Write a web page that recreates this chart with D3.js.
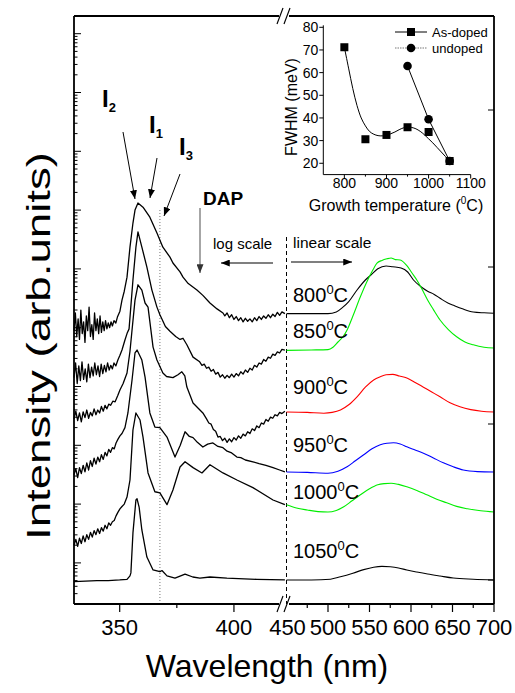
<!DOCTYPE html>
<html><head><meta charset="utf-8">
<script src="https://cdn.jsdelivr.net/npm/d3@7"></script>
<style>
html,body{margin:0;padding:0;background:#fff;}
svg{display:block;font-family:"Liberation Sans",Arial,Helvetica,sans-serif;}
</style></head><body>
<svg id="c" width="515" height="693"></svg>
<script>
// ---------- DATA ----------
// Growth temperatures (curve labels) and colours of the linear-scale part
const temps = ["800","850","900","950","1000","1050"];
const linColors = ["#000000","#00ee00","#ff0000","#0000ff","#00ee00","#000000"];
const xTicksLeft = [350,400];
const xMinorLeft = [375];
const xTicksRight = [450,500,550,600,650,700];
const xMinorRight = [475,525,575,625,675];

// Log-scale part: [wavelength nm, log10 intensity (offset spectra)]
const log800 = [[330,3.95],[330.6,4.25],[331.2,3.85],[331.8,4.15],[332.4,3.8],[333,4.3],[333.6,3.9],[334.2,4.1],[334.8,3.75],[335.4,4.2],[336,3.95],[336.6,4.35],[337.2,3.85],[337.8,4.05],[338.4,3.8],[339,4.25],[339.6,3.95],[340.2,4.15],[340.8,3.9],[341.4,4.2],[342,3.92],[342.6,4.1],[343.2,3.95],[343.8,4.12],[344.4,3.98],[345,4.08],[345.6,4.0],[346.2,4.1],[346.8,4.03],[347.5,4.12],[348.3,4.08],[349,4.18],[350.1,4.28],[351,4.47],[352,4.62],[353.2,4.86],[354.5,5.37],[355.8,5.78],[356.7,6.0],[358,6.12],[360.2,6.05],[363.2,5.88],[366.3,5.61],[368.9,5.37],[372,5.2],[373.3,5.1],[376.4,4.95],[377.7,4.86],[380,4.75],[383.8,4.64],[386.4,4.55],[389.5,4.42],[392.6,4.32],[395.2,4.25],[396,4.2],[397,4.25],[398,4.17],[399,4.22],[400,4.14],[401,4.19],[402,4.12],[403,4.17],[404,4.1],[405,4.16],[406,4.11],[407,4.15],[408,4.1],[409,4.17],[410,4.12],[411,4.19],[412,4.14],[413,4.2],[414,4.16],[415,4.22],[416,4.17],[417,4.23],[418,4.19],[419,4.26],[420,4.21],[421,4.27],[422.3,4.24]];
const log850 = [[330,3.15],[330.7,3.4],[331.4,3.05],[332.1,3.35],[332.8,3.1],[333.5,3.42],[334.2,3.12],[334.9,3.3],[335.6,3.08],[336.3,3.38],[337,3.15],[337.7,3.33],[338.4,3.18],[339.1,3.4],[339.8,3.2],[340.5,3.35],[341.2,3.17],[341.9,3.38],[342.6,3.22],[343.3,3.36],[344,3.25],[344.7,3.4],[345.4,3.28],[346.1,3.36],[346.8,3.3],[347.5,3.4],[348.3,3.35],[349.2,3.45],[350.1,3.53],[351,3.62],[352.3,3.79],[353.2,3.9],[354.1,3.98],[355.8,4.81],[357.1,5.37],[358,5.63],[359.7,5.37],[361.9,5.03],[364.1,4.64],[366.3,4.35],[367.6,4.22],[370,4.02],[372,3.94],[374.5,3.85],[376.4,3.8],[377.7,3.82],[379.4,3.71],[382.1,3.5],[385,3.42],[386,3.36],[387,3.38],[388,3.31],[389,3.33],[390,3.26],[391,3.29],[392,3.21],[393,3.24],[394,3.16],[395,3.2],[396,3.14],[397,3.19],[398,3.15],[399,3.21],[400,3.16],[401,3.22],[402,3.18],[403,3.25],[404,3.21],[405,3.28],[406,3.24],[407,3.31],[408,3.28],[409,3.36],[410,3.33],[411,3.4],[412,3.38],[413,3.46],[414,3.43],[415,3.5],[416,3.48],[417,3.55],[418,3.53],[419,3.59],[420,3.57],[421,3.63],[422.3,3.62]];
const log900 = [[330,2.45],[330.8,2.58],[331.6,2.42],[332.4,2.55],[333.2,2.4],[334,2.57],[334.8,2.47],[335.6,2.6],[336.4,2.46],[337.2,2.56],[338,2.5],[338.8,2.62],[339.6,2.52],[340.4,2.6],[341.2,2.55],[342,2.66],[342.8,2.58],[343.6,2.68],[344.4,2.62],[345.2,2.7],[346,2.68],[347,2.75],[348,2.74],[349.2,2.85],[350.1,2.94],[351.5,3.05],[353.2,3.23],[354.5,3.6],[355.4,3.96],[356.7,4.47],[358,4.73],[359.7,4.64],[361.1,4.42],[362.4,4.35],[364.6,3.67],[366.3,3.45],[368.9,3.23],[370.5,3.17],[373.3,3.15],[375.5,3.2],[377.2,3.25],[378.5,3.18],[379.4,2.99],[382.1,2.72],[386.4,2.55],[388,2.45],[389,2.38],[390,2.36],[391,2.27],[392,2.24],[393,2.14],[394,2.15],[395,2.08],[396,2.12],[397,2.05],[398,2.11],[399,2.06],[400,2.13],[401,2.09],[402,2.16],[403,2.12],[404,2.19],[405,2.16],[406,2.23],[407,2.2],[408,2.28],[409,2.25],[410,2.33],[411,2.3],[412,2.38],[413,2.36],[414,2.44],[415,2.41],[416,2.48],[417,2.46],[418,2.52],[419,2.5],[420,2.56],[421,2.54],[422.3,2.58]];
const log950 = [[330,1.5],[330.8,1.6],[331.6,1.45],[332.4,1.62],[333.2,1.52],[334,1.66],[334.8,1.55],[335.6,1.7],[336.4,1.58],[337.2,1.74],[338,1.64],[338.8,1.78],[339.6,1.68],[340.4,1.8],[341.2,1.72],[342,1.84],[342.8,1.76],[343.6,1.88],[344.4,1.82],[345.2,1.93],[346,1.88],[346.8,1.96],[347.6,1.94],[348.4,2.04],[349.2,2.1],[350.1,2.16],[351,2.2],[352.3,2.3],[353.6,2.55],[355.4,3.11],[356.7,3.57],[357.6,3.62],[359.7,3.45],[361.1,3.16],[363.2,2.55],[365.4,2.31],[367.6,2.3],[370.7,2.14],[374.2,1.8],[376.5,2.0],[378.6,2.23],[380.5,2.15],[382.1,2.13],[384,2.05],[386.4,1.97],[388.5,2.02],[390.8,2.04],[393,1.98],[395.2,1.96],[397,1.9],[399,1.87],[401.3,1.8],[403,1.79],[405,1.75],[408.3,1.72],[411,1.69],[414,1.66],[417.1,1.62],[420,1.58],[422.3,1.55]];
const log1000 = [[330,0.3],[330.8,0.4],[331.6,0.28],[332.4,0.42],[333.2,0.33],[334,0.46],[334.8,0.36],[335.6,0.48],[336.4,0.4],[337.2,0.52],[338,0.44],[338.8,0.55],[339.6,0.48],[340.4,0.58],[341.2,0.5],[342,0.6],[342.8,0.54],[343.6,0.64],[344.4,0.58],[345.2,0.68],[346,0.64],[346.8,0.7],[347.6,0.72],[348.4,0.8],[349.2,0.86],[350.1,0.92],[351,0.96],[352,1.0],[353.2,1.12],[354.5,1.41],[355.8,2.26],[357.1,2.55],[358.9,2.43],[360.2,2.14],[362.4,1.53],[365.4,1.21],[367.6,1.19],[370.7,0.99],[373.3,1.24],[376.4,1.63],[378.6,1.72],[382.1,1.62],[386,1.53],[389.5,1.67],[395.2,1.53],[401.3,1.41],[408.3,1.28],[417.1,1.07],[422.3,0.99]];
const log1050 = [[330,-0.32],[335,-0.31],[340,-0.3],[345,-0.3],[350,-0.29],[353.2,-0.28],[354.5,-0.22],[354.9,-0.17],[355.8,0.51],[357.1,1.07],[357.6,1.09],[358.5,0.95],[359.7,0.56],[361.9,0.1],[364.6,-0.12],[367.6,-0.15],[368.5,-0.13],[370.7,-0.22],[374.2,-0.26],[378.6,-0.19],[382,-0.24],[385.1,-0.26],[389.5,-0.24],[396.9,-0.26],[410,-0.28],[422.3,-0.29]];

// Linear-scale part: [wavelength nm, intensity (offset, arb.)]
const lin800 = [[450,72.6],[480,72.6],[500,72.6],[510,73],[518,74.2],[525,75.6],[535,78.5],[545,81],[552,82.3],[560,83.8],[570,84.5],[578,84.3],[588,84],[596,83],[603,81],[612,79.3],[620,78.2],[628,77.4],[636,76.3],[645,75.2],[652,74.6],[662,73.8],[675,73],[688,72.8],[700,72.7]];
const lin850 = [[450,63.4],[480,63.5],[500,63.6],[506,64.2],[512,65.5],[518,66.8],[523,68.5],[530,72],[539,76.8],[546,80.2],[554,83.5],[559,85.2],[565,85.9],[571,86.3],[576,86.5],[581,86.1],[587,86],[595,84.6],[601,82.8],[607,81],[613,78.8],[620,76],[627,73.6],[635,71],[645,68.6],[655,66.8],[665,65.5],[675,64.8],[688,64.2],[700,64]];
const lin900 = [[450,48],[475,47.9],[495,47.7],[505,47.9],[515,48.5],[525,49.8],[535,51.8],[545,54.2],[555,56],[563,56.8],[570,57.3],[578,57.4],[586,57],[595,56.5],[605,55.4],[615,54.2],[625,53],[635,51.8],[647,50.3],[659,49.3],[672,48.6],[685,48.2],[700,48]];
const lin950 = [[450,33],[475,32.9],[500,32.7],[512,33.2],[523,34.3],[533,35.8],[543,37.3],[553,38.8],[563,39.8],[571,40.2],[579,40.3],[587,40],[595,39.3],[605,38.5],[615,37.7],[627,36.5],[639,35.3],[651,34.3],[663,33.5],[680,33.1],[700,33]];
const lin1000 = [[450,24.8],[462,24],[475,23.5],[488,23.1],[500,23],[510,23.4],[519,24.3],[529,25.8],[539,27.3],[550,28.8],[560,29.8],[568,30.1],[576,30.2],[585,29.9],[595,29.3],[607,28.4],[619,27.3],[631,26.2],[643,25.3],[655,24.4],[668,23.8],[684,23.3],[700,23]];
const lin1050 = [[450,6],[480,6],[503,6.2],[515,6.8],[530,7.7],[543,8.6],[555,9.2],[565,9.4],[575,9.3],[585,9],[595,8.5],[607,8],[620,7.5],[635,7],[651,6.5],[675,6.2],[700,6]];
const rightTicks = [6,45,84.25,123.5];

// Inset: FWHM vs growth temperature
const insetTemps = [800,850,900,950,1000,1050];
const fwhmAsDoped = [71.2,30.6,32.5,35.9,33.8,21.0];
const undopedTemps = [950,1000,1050];
const fwhmUndoped = [62.9,39.4,21.0];
const asDopedFit = [[800,71.2],[810,62],[820,53],[830,45.5],[840,40],[850,36.5],[860,34],[870,32.8],[880,32.2],[890,32.1],[900,32.4],[910,33],[920,33.8],[930,34.8],[940,35.6],[950,36],[960,35.8],[970,35.2],[980,34.1],[990,32.6],[1000,30.8],[1010,29],[1020,27],[1030,25],[1040,23],[1050,21]];
const insetXTicks = [800,900,1000,1100];
const insetYTicks = [20,30,40,50,60,70,80];

// ---------- DRAW ----------
const svg = d3.select("#c");
const L=74, R=494, T=16, B=604, BRK=286.5;
const xL = d3.scaleLinear().domain([330,423]).range([L,BRK]);
const xR = d3.scaleLinear().domain([450,700]).range([BRK,R]);
const yLog = d3.scaleLog().domain([0.2,2e9]).range([B,T]);
const yLin = d3.scaleLinear().domain([0,147]).range([B,T]);

const defs = svg.append("defs");
function marker(id,color){
  defs.append("marker").attr("id",id).attr("viewBox","0 0 10 8").attr("refX",10).attr("refY",4)
   .attr("markerWidth",9).attr("markerHeight",7).attr("markerUnits","userSpaceOnUse").attr("orient","auto")
   .append("path").attr("d","M0,0 L10,4 L0,8 Z").attr("fill",color);
}
marker("ah","#000"); marker("ahg","#333");

// reference vertical lines
svg.append("line").attr("x1",xL(367.6)).attr("x2",xL(367.6)).attr("y1",210).attr("y2",B)
  .attr("stroke","#777").attr("stroke-width",1).attr("stroke-dasharray","1,2");
svg.append("line").attr("x1",BRK).attr("x2",BRK).attr("y1",237).attr("y2",B)
  .attr("stroke","#000").attr("stroke-width",1).attr("stroke-dasharray","4,3");

// log spectra
const logSpectra=[log800,log850,log900,log950,log1000,log1050];
const lineLog = d3.line().x(d=>xL(d[0])).y(d=>yLog(Math.pow(10,d[1])));
logSpectra.forEach(s=>svg.append("path").attr("d",lineLog(s)).attr("fill","none")
  .attr("stroke","#000").attr("stroke-width",1.3).attr("stroke-linejoin","round"));
// linear spectra
const linSpectra=[lin800,lin850,lin900,lin950,lin1000,lin1050];
const lineLin = d3.line().x(d=>xR(d[0])).y(d=>yLin(d[1])).curve(d3.curveMonotoneX);
linSpectra.forEach((s,i)=>svg.append("path").attr("d",lineLin(s)).attr("fill","none")
  .attr("stroke",linColors[i]).attr("stroke-width",1.1));

// frame
const fr = svg.append("g").attr("stroke","#000").attr("stroke-width",1.8).attr("fill","none");
fr.append("line").attr("x1",L).attr("x2",L).attr("y1",T).attr("y2",B);
fr.append("line").attr("x1",R).attr("x2",R).attr("y1",T).attr("y2",B);
fr.append("line").attr("x1",L).attr("x2",279).attr("y1",T).attr("y2",T);
fr.append("line").attr("x1",289).attr("x2",R).attr("y1",T).attr("y2",T);
fr.append("line").attr("x1",L).attr("x2",279).attr("y1",B).attr("y2",B);
fr.append("line").attr("x1",289).attr("x2",R).attr("y1",B).attr("y2",B);
// break marks
[T,B].forEach(yy=>{
  [0,7].forEach(dx=>svg.append("line").attr("x1",277+dx).attr("y1",yy+8).attr("x2",283+dx).attr("y2",yy-8)
    .attr("stroke","#000").attr("stroke-width",1.2));
});

// left log axis ticks (inside)
const lt = svg.append("g").attr("stroke","#000").attr("stroke-width",1);
for(let k=-1;k<=9;k++){for(let m=1;m<=9;m++){const v=m*Math.pow(10,k);
  if(v<0.2||v>2e9) continue; const yy=yLog(v);
  lt.append("line").attr("x1",L).attr("x2",L+(m===1?7:3.5)).attr("y1",yy).attr("y2",yy);}}
// right ticks (inside)
rightTicks.forEach(v=>lt.append("line").attr("x1",R).attr("x2",R-6).attr("y1",yLin(v)).attr("y2",yLin(v)));

// bottom ticks & labels
const bt = svg.append("g");
function btick(x,len){bt.append("line").attr("x1",x).attr("x2",x).attr("y1",B).attr("y2",B+len).attr("stroke","#000").attr("stroke-width",1.2);}
xTicksLeft.forEach(v=>btick(xL(v),8)); xMinorLeft.forEach(v=>btick(xL(v),4));
xTicksRight.slice(1).forEach(v=>btick(xR(v),8)); xMinorRight.forEach(v=>btick(xR(v),4));
xTicksLeft.forEach(v=>bt.append("text").attr("x",xL(v)).attr("y",635).attr("text-anchor","middle").attr("font-size",22).text(v));
xTicksRight.forEach(v=>bt.append("text").attr("x",xR(v)+ (v===450?1:0)).attr("y",635).attr("text-anchor","middle").attr("font-size",22).text(v));

// axis titles
svg.append("text").attr("x",267).attr("y",677).attr("text-anchor","middle").attr("font-size",32).text("Wavelength (nm)");
svg.append("text").attr("transform","translate(50,346) rotate(-90)").attr("text-anchor","middle").attr("font-size",33)
  .attr("textLength",388).attr("lengthAdjust","spacingAndGlyphs").text("Intensity (arb.units)");

// temperature labels
const tLab=[302,338,394,452,499,558];
temps.forEach((t,i)=>{const tx=svg.append("text").attr("x",293).attr("y",tLab[i]).attr("font-size",20);
  tx.append("tspan").text(t); tx.append("tspan").attr("font-size",13).attr("dy",-8).text("0");
  tx.append("tspan").attr("dy",8).text("C");});

// peak annotations
function ilab(x,y,sub){const t=svg.append("text").attr("x",x).attr("y",y).attr("font-size",24).attr("font-weight","bold");
  t.append("tspan").text("I"); t.append("tspan").attr("font-size",13).attr("dy",5).text(sub);}
ilab(102,107,"2"); ilab(149,133,"1"); ilab(179,155,"3");
svg.append("text").attr("x",203).attr("y",205).attr("font-size",19).attr("font-weight","bold").text("DAP");
function arrow(x1,y1,x2,y2,col,mk,w){svg.append("line").attr("x1",x1).attr("y1",y1).attr("x2",x2).attr("y2",y2)
  .attr("stroke",col).attr("stroke-width",w).attr("marker-end",`url(#${mk})`);}
arrow(123,132,135,199,"#000","ah",1);
arrow(157,158,150,198,"#000","ah",1);
arrow(180,174,164,216,"#000","ah",1);
arrow(200,208,200,273,"#888","ahg",1.5);
arrow(273,263,221,263,"#000","ah",1.2);
arrow(291,262,352,262,"#000","ah",1.2);
svg.append("text").attr("x",213).attr("y",249).attr("font-size",15).text("log scale");
svg.append("text").attr("x",293).attr("y",248).attr("font-size",15.5).text("linear scale");

// ---------- INSET ----------
const xI = d3.scaleLinear().domain([750,1100]).range([323.3,470.7]);
const yI = d3.scaleLinear().domain([15,80]).range([174.6,27.3]);
const ig = svg.append("g");
ig.append("line").attr("x1",xI(750)).attr("x2",xI(750)).attr("y1",yI(15)).attr("y2",yI(80)-2).attr("stroke","#000");
ig.append("line").attr("x1",xI(750)).attr("x2",xI(1100)).attr("y1",yI(15)).attr("y2",yI(15)).attr("stroke","#000");
insetXTicks.forEach(v=>{ig.append("line").attr("x1",xI(v)).attr("x2",xI(v)).attr("y1",yI(15)).attr("y2",yI(15)+4).attr("stroke","#000");
  ig.append("text").attr("x",xI(v)).attr("y",188).attr("text-anchor","middle").attr("font-size",14).text(v);});
[850,950,1050].forEach(v=>ig.append("line").attr("x1",xI(v)).attr("x2",xI(v)).attr("y1",yI(15)).attr("y2",yI(15)+2).attr("stroke","#000"));
insetYTicks.forEach(v=>{ig.append("line").attr("x1",xI(750)).attr("x2",xI(750)-4).attr("y1",yI(v)).attr("y2",yI(v)).attr("stroke","#000");
  ig.append("text").attr("x",xI(750)-5).attr("y",yI(v)+5).attr("text-anchor","end").attr("font-size",14).text(v);});
const gx = ig.append("text").attr("x",396).attr("y",211).attr("text-anchor","middle").attr("font-size",16);
gx.append("tspan").text("Growth temperature ("); gx.append("tspan").attr("font-size",10).attr("dy",-7).text("0");
gx.append("tspan").attr("dy",7).text("C)");
ig.append("text").attr("transform","translate(297,107) rotate(-90)").attr("text-anchor","middle").attr("font-size",16).text("FWHM (meV)");
ig.append("path").attr("d",d3.line().x(d=>xI(d[0])).y(d=>yI(d[1])).curve(d3.curveCatmullRom)(asDopedFit))
  .attr("fill","none").attr("stroke","#000").attr("stroke-width",1);
const und = undopedTemps.map((t,i)=>[t,fwhmUndoped[i]]);
ig.append("path").attr("d",d3.line().x(d=>xI(d[0])).y(d=>yI(d[1]))(und)).attr("fill","none").attr("stroke","#000").attr("stroke-width",1);
insetTemps.forEach((t,i)=>ig.append("rect").attr("x",xI(t)-4).attr("y",yI(fwhmAsDoped[i])-4).attr("width",8).attr("height",8).attr("fill","#000"));
undopedTemps.forEach((t,i)=>ig.append("circle").attr("cx",xI(t)).attr("cy",yI(fwhmUndoped[i])).attr("r",4.3).attr("fill","#000"));
// legend
ig.append("line").attr("x1",395).attr("x2",427).attr("y1",32).attr("y2",32).attr("stroke","#000");
ig.append("rect").attr("x",407).attr("y",28).attr("width",8).attr("height",8).attr("fill","#000");
ig.append("text").attr("x",432).attr("y",37).attr("font-size",13).text("As-doped");
ig.append("line").attr("x1",395).attr("x2",427).attr("y1",48).attr("y2",48).attr("stroke","#777").attr("stroke-dasharray","1.5,1");
ig.append("circle").attr("cx",411).attr("cy",48).attr("r",4.3).attr("fill","#000");
ig.append("text").attr("x",432).attr("y",53).attr("font-size",13).text("undoped");
</script></body></html>
